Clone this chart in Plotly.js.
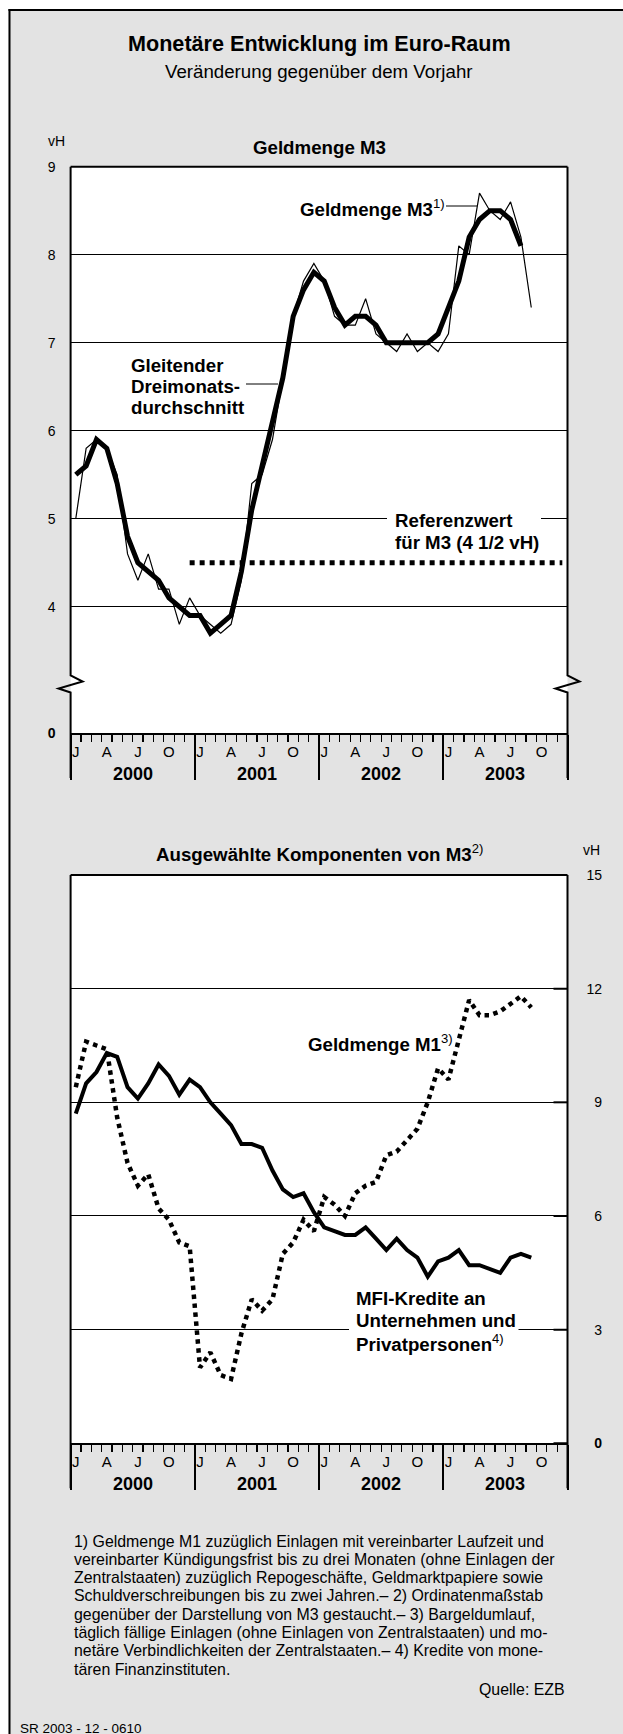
<!DOCTYPE html>
<html>
<head>
<meta charset="utf-8">
<script src="https://cdn.plot.ly/plotly-3.0.1.min.js"></script>
<style>
  html, body { margin: 0; padding: 0; background: #fff; }
  #chart { width: 623px; height: 1734px; }
</style>
</head>
<body>
<div id="chart"></div>
<script>
// Monetäre Entwicklung im Euro-Raum, monthly values Jan 2000 - Sep 2003 (vH)

const years = ['2000', '2001', '2002', '2003'];
const monthLetters = ['J', 'A', 'J', 'O'];

// Geldmenge M3, Veränderung gegenüber dem Vorjahr
const m3Monthly = [5.0, 5.8, 5.9, 5.8, 5.5, 4.6, 4.3, 4.6, 4.2, 4.2, 3.8, 4.1,
                   3.9, 3.8, 3.7, 3.8, 4.3, 5.4, 5.5, 5.9, 6.6, 7.3, 7.7, 7.9,
                   7.7, 7.3, 7.2, 7.2, 7.5, 7.1, 7.0, 6.9, 7.1, 6.9, 7.0, 6.9,
                   7.1, 8.1, 8.0, 8.7, 8.5, 8.4, 8.6, 8.2, 7.4];
// gleitender Dreimonatsdurchschnitt
const m3Avg3 = [5.5, 5.6, 5.9, 5.8, 5.4, 4.8, 4.5, 4.4, 4.3, 4.1, 4.0, 3.9,
                3.9, 3.7, 3.8, 3.9, 4.4, 5.1, 5.6, 6.1, 6.6, 7.3, 7.6, 7.8,
                7.7, 7.4, 7.2, 7.3, 7.3, 7.2, 7.0, 7.0, 7.0, 7.0, 7.0, 7.1,
                7.4, 7.7, 8.2, 8.4, 8.5, 8.5, 8.4, 8.1];
// Referenzwert für M3 (4 1/2 vH), Dez 2000 bis Dez 2003
const refValue = 4.5;
const refMonths = [11, 47];

// Geldmenge M1
const m1 = [9.4, 10.6, 10.5, 10.4, 8.6, 7.4, 6.8, 7.1, 6.2, 5.9, 5.3, 5.2,
            2.0, 2.4, 1.8, 1.7, 2.9, 3.8, 3.5, 3.8, 5.0, 5.3, 5.9, 5.6,
            6.5, 6.3, 6.0, 6.6, 6.8, 6.9, 7.6, 7.7, 8.0, 8.3, 9.0, 9.9,
            9.6, 10.6, 11.7, 11.3, 11.3, 11.4, 11.6, 11.8, 11.5];
// MFI-Kredite an Unternehmen und Privatpersonen
const mfi = [8.7, 9.5, 9.8, 10.3, 10.2, 9.4, 9.1, 9.5, 10.0, 9.7, 9.2, 9.6,
             9.4, 9.0, 8.7, 8.4, 7.9, 7.9, 7.8, 7.2, 6.7, 6.5, 6.6, 6.1,
             5.7, 5.6, 5.5, 5.5, 5.7, 5.4, 5.1, 5.4, 5.1, 4.9, 4.4, 4.8,
             4.9, 5.1, 4.7, 4.7, 4.6, 4.5, 4.9, 5.0, 4.9];

const m3Ticks = [4, 5, 6, 7, 8, 9];
const compTicks = [0, 3, 6, 9, 12, 15];

const footnotes = [
  '1) Geldmenge M1 zuzüglich Einlagen mit vereinbarter Laufzeit und',
  'vereinbarter Kündigungsfrist bis zu drei Monaten (ohne Einlagen der',
  'Zentralstaaten) zuzüglich Repogeschäfte, Geldmarktpapiere sowie',
  'Schuldverschreibungen bis zu zwei Jahren.– 2) Ordinatenmaßstab',
  'gegenüber der Darstellung von M3 gestaucht.– 3) Bargeldumlauf,',
  'täglich fällige Einlagen (ohne Einlagen von Zentralstaaten) und mo-',
  'netäre Verbindlichkeiten der Zentralstaaten.– 4) Kredite von mone-',
  'tären Finanzinstituten.'
];

// page geometry in pixels
const W = 623, H = 1734;
const px = x => x / W;
const py = y => 1 - y / H;
const FONT = 'Liberation Sans, Arial, Helvetica, sans-serif';
const L = 70.6, R = 567.5;
const top1 = 166.7, bot1 = 733.3;
const top2 = 875, bot2 = 1443.3;
const low1 = 9 - (bot1 - top1) / 88;   // axis break: "0" sits on the bottom line
const LABEL = 18.7;

const monthPos = i => 2000 + (i + 0.5) / 12;
const monthTickVals = [], monthTickText = [];
years.forEach((yr, k) => monthLetters.forEach((m, j) => {
  monthTickVals.push(2000 + k + (3 * j + 0.5) / 12);
  monthTickText.push(m);
}));
const monthBounds = Array.from({length: 49}, (_, i) => 2000 + i / 12);
const yearBounds = [2000, 2001, 2002, 2003, 2004];

// base axis: bottom line, year separators, monthly ticks
function yearAxis(anchor) {
  return {
    domain: [px(L), px(R)], anchor: anchor, range: [2000, 2004],
    showline: true, linecolor: '#000', linewidth: 2,
    showgrid: false, zeroline: false,
    tickmode: 'array', tickvals: yearBounds, ticks: 'outside',
    ticklen: 45, tickwidth: 2, tickcolor: '#000', showticklabels: false,
    minor: {tickmode: 'array', tickvals: monthBounds, ticks: 'outside',
            ticklen: 7, tickwidth: 1.2, tickcolor: '#000'}
  };
}

// overlay axis: month letters
function monthAxis(over, anchor) {
  return {
    domain: [px(L), px(R)], overlaying: over, anchor: anchor, range: [2000, 2004],
    tickmode: 'array', tickvals: monthTickVals, ticktext: monthTickText,
    ticks: '', ticklabelstandoff: 8,
    tickfont: {family: FONT, size: 15, color: '#000'},
    showgrid: false, showline: false, zeroline: false
  };
}

function txt(text, x, y, size, opts) {
  return Object.assign({
    text: text, x: px(x), y: py(y), xref: 'paper', yref: 'paper',
    showarrow: false, xanchor: 'center', yanchor: 'middle',
    font: {family: FONT, size: size, color: '#000'}
  }, opts || {});
}

function line(x0, y0, x1, y1, w) {
  return {type: 'line', xref: 'paper', yref: 'paper', x0: px(x0), y0: py(y0),
          x1: px(x1), y1: py(y1), line: {color: '#000', width: w}};
}

function rect(x0, y0, x1, y1, color) {
  return {type: 'rect', xref: 'paper', yref: 'paper', x0: px(x0), y0: py(y0),
          x1: px(x1), y1: py(y1), fillcolor: color, line: {width: 0}};
}

function zigzag(x, yTop, yBreak, yBottom) {
  const p = (a, b) => px(a) + ',' + py(b);
  return {type: 'path', xref: 'paper', yref: 'paper', line: {color: '#000', width: 2},
    path: 'M' + p(x, yTop) + ' L' + p(x, yBreak) + ' L' + p(x + 12, yBreak + 6) +
          ' L' + p(x - 12, yBreak + 13) + ' L' + p(x, yBreak + 17) + ' L' + p(x, yBottom)};
}

const traces = [
  {x: m3Monthly.map((_, i) => monthPos(i)), y: m3Monthly, xaxis: 'x', yaxis: 'y',
   type: 'scatter', mode: 'lines', line: {color: '#000', width: 1.2}, name: 'Geldmenge M3'},
  {x: m3Avg3.map((_, i) => monthPos(i)), y: m3Avg3, xaxis: 'x', yaxis: 'y',
   type: 'scatter', mode: 'lines', line: {color: '#000', width: 5}, name: 'Dreimonatsdurchschnitt'},
  {x: refMonths.map(monthPos), y: refMonths.map(() => refValue), xaxis: 'x3', yaxis: 'y',
   type: 'scatter', mode: 'lines', line: {color: '#000', width: 5, dash: 'dot'}, name: 'Referenzwert'},
  {x: mfi.map((_, i) => monthPos(i)), y: mfi, xaxis: 'x2', yaxis: 'y2',
   type: 'scatter', mode: 'lines', line: {color: '#000', width: 4}, name: 'MFI-Kredite'},
  {x: m1.map((_, i) => monthPos(i)), y: m1, xaxis: 'x4', yaxis: 'y2',
   type: 'scatter', mode: 'lines', line: {color: '#000', width: 4.5, dash: 'dot'}, name: 'Geldmenge M1'}
];

const annotations = [
  txt('<b>Monetäre Entwicklung im Euro-Raum</b>', 319, 43, 21.6),
  txt('Veränderung gegenüber dem Vorjahr', 319, 72, 18.7),
  txt('vH', 56.5, 141, 14),
  txt('<b>Geldmenge M3</b>', 319, 147.3, LABEL),
  txt('<b>Geldmenge M3</b><sup>1)</sup>', 298, 208, LABEL, {xanchor: 'left'}),
  txt('<b>Gleitender</b>', 129, 365.7, LABEL, {xanchor: 'left'}),
  txt('<b>Dreimonats-</b>', 129, 386.7, LABEL, {xanchor: 'left'}),
  txt('<b>durchschnitt</b>', 129, 407.3, LABEL, {xanchor: 'left'}),
  txt('<b>Referenzwert</b>', 392.5, 520, LABEL, {xanchor: 'left'}),
  txt('<b>für M3 (4 1/2 vH)</b>', 392.5, 542.7, LABEL, {xanchor: 'left'}),
  txt('<b>Ausgewählte Komponenten von M3</b><sup>2)</sup>', 319, 853.3, LABEL),
  txt('vH', 591, 850, 14),
  txt('<b>Geldmenge M1</b><sup>3)</sup>', 306, 1043.3, LABEL, {xanchor: 'left'}),
  txt('<b>MFI-Kredite an</b>', 354.4, 1298.3, LABEL, {xanchor: 'left'}),
  txt('<b>Unternehmen und</b>', 354.4, 1320, LABEL, {xanchor: 'left'}),
  txt('<b>Privatpersonen</b><sup>4)</sup>', 354.4, 1342.7, LABEL, {xanchor: 'left'}),
  txt('Quelle: EZB', 567, 1689.3, 15.9, {xanchor: 'right'}),
  txt('SR 2003 - 12 - 0610', 18, 1728.3, 13.5, {xanchor: 'left'})
];
footnotes.forEach((t, k) => annotations.push(txt(t, 71.5, 1541 + k * 18.3, 15.9, {xanchor: 'left'})));
years.forEach(yr => {
  annotations.push(Object.assign(txt('<b>' + yr + '</b>', 0, 774, 18), {xref: 'x', x: +yr + 0.5}));
  annotations.push(Object.assign(txt('<b>' + yr + '</b>', 0, 1484, 18), {xref: 'x2', x: +yr + 0.5}));
});

const shapes = [
  // white page margin and outer frame
  rect(-5, -5, 8.5, H + 5, '#fff'),
  rect(-5, -5, W + 5, 9, '#fff'),
  line(9.5, 9, 9.5, H + 5, 2),
  line(8.5, 10, W + 5, 10, 2),
  // M3 panel frame with axis breaks
  line(L, top1, R, top1, 2),
  zigzag(L, top1, 675.5, 778),
  zigzag(R, top1, 675.5, 778),
  // components panel frame
  line(L, top2, R, top2, 2),
  line(L, top2, L, bot2 + 45, 2),
  line(R, top2, R, bot2 + 45, 2),
  // label connectors and gaps in grid lines
  line(446, 206, 477, 206, 1),
  line(246, 384, 278, 384, 1),
  rect(387, 515.5, 541, 521, '#fff'),
  rect(349, 1327.5, 518.5, 1332.5, '#fff')
];
// short inside ticks on the right edge of the components panel
compTicks.forEach(v => shapes.push({
  type: 'line', xref: 'paper', yref: 'y2', x0: px(R - 14), x1: px(R), y0: v, y1: v,
  line: {color: '#000', width: 2}
}));

const layout = {
  width: W, height: H,
  margin: {l: 0, r: 0, t: 0, b: 0},
  paper_bgcolor: '#e3e3e3', plot_bgcolor: '#fff',
  showlegend: false,
  font: {family: FONT, color: '#000'},
  xaxis: yearAxis('y'),
  xaxis2: yearAxis('y2'),
  xaxis3: monthAxis('x', 'y'),
  xaxis4: monthAxis('x2', 'y2'),
  yaxis: {
    domain: [py(bot1), py(top1)], anchor: 'x', range: [low1, 9],
    tickmode: 'array', tickvals: [low1].concat(m3Ticks),
    ticktext: ['<b>0</b>'].concat(m3Ticks.map(String)),
    ticks: '', ticklabelstandoff: 14,
    showgrid: true, gridcolor: '#000', gridwidth: 1.5,
    showline: false, zeroline: false,
    tickfont: {family: FONT, size: 14, color: '#000'}
  },
  yaxis2: {
    domain: [py(bot2), py(top2)], anchor: 'free', side: 'left',
    position: px(602), range: [0, 15],
    tickmode: 'array', tickvals: compTicks,
    ticktext: ['<b>0</b>'].concat(compTicks.slice(1).map(String)),
    ticks: '', showgrid: true, gridcolor: '#000', gridwidth: 1,
    showline: false, zeroline: false,
    tickfont: {family: FONT, size: 14, color: '#000'}
  },
  annotations: annotations,
  shapes: shapes
};

Plotly.newPlot('chart', traces, layout, {staticPlot: true});
</script>
</body>
</html>
